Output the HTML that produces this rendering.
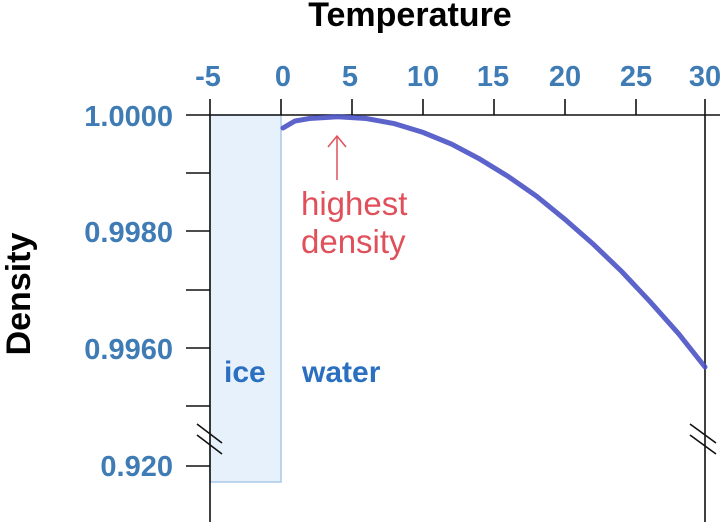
<!DOCTYPE html>
<html><head><style>body{margin:0;background:#fff}</style></head><body>
<svg width="720" height="522" xmlns="http://www.w3.org/2000/svg" font-family="Liberation Sans, sans-serif" font-weight="bold">
<rect x="210" y="115" width="71" height="367" fill="#e6f1fc" stroke="#a9c8ea" stroke-width="1.5"/>
<g stroke="#111" stroke-width="1.6" fill="none">
<line x1="186" y1="115" x2="720" y2="115"/>
<line x1="210" y1="115" x2="210" y2="522"/>
<line x1="705" y1="115" x2="705" y2="522"/>
<line x1="210" y1="99" x2="210" y2="115"/><line x1="281" y1="99" x2="281" y2="115"/>
<line x1="352" y1="99" x2="352" y2="115"/><line x1="423" y1="99" x2="423" y2="115"/>
<line x1="494" y1="99" x2="494" y2="115"/><line x1="565" y1="99" x2="565" y2="115"/>
<line x1="636" y1="99" x2="636" y2="115"/><line x1="705" y1="99" x2="705" y2="115"/>
<line x1="186" y1="173" x2="210" y2="173"/><line x1="186" y1="231" x2="210" y2="231"/>
<line x1="186" y1="290" x2="210" y2="290"/><line x1="186" y1="348" x2="210" y2="348"/>
<line x1="186" y1="406" x2="210" y2="406"/><line x1="186" y1="466" x2="210" y2="466"/>
<line x1="197" y1="424" x2="222" y2="443"/><line x1="197" y1="435" x2="222" y2="454"/>
<line x1="690" y1="424" x2="716" y2="443"/><line x1="690" y1="435" x2="716" y2="454"/>
</g>
<polyline fill="none" stroke="#4a52c4" stroke-width="5" stroke-linecap="round" opacity="0.9" points="283,128 295,121 309.4,118.5 337.8,116.7 366.2,118.5 394.6,123.7 423,132.4 451.4,144 479.8,159.1 508.2,176.5 536.6,196.2 565,219.4 593.4,244.3 621.8,271.6 650.2,301.8 678.6,333.7 705,367"/>
<g stroke="#e0505a" stroke-width="1.5" fill="none"><line x1="337" y1="136" x2="337" y2="180"/><polyline points="328,147 337,136 346,147"/></g>
<text x="410" y="26" text-anchor="middle" font-size="34" fill="#000">Temperature</text>
<g fill="#3f7cb5" font-size="29" text-anchor="middle">
<text x="208" y="86">-5</text><text x="283" y="86">0</text><text x="350" y="86">5</text><text x="423" y="86">10</text><text x="493" y="86">15</text><text x="565" y="86">20</text><text x="636" y="86">25</text><text x="705" y="86">30</text>
</g>
<g fill="#3f7cb5" font-size="29" text-anchor="end">
<text x="173" y="126">1.0000</text><text x="173" y="242">0.9980</text><text x="173" y="359">0.9960</text><text x="173" y="476">0.920</text>
</g>
<text transform="translate(30,294) rotate(-90)" text-anchor="middle" font-size="34" fill="#000">Density</text>
<g fill="#2a6fc0" font-size="30"><text x="224" y="382">ice</text><text x="302" y="382">water</text></g>
<g fill="#e0505a" font-size="33" font-weight="normal"><text x="301" y="215">highest</text><text x="301" y="253">density</text></g>
</svg>
</body></html>
